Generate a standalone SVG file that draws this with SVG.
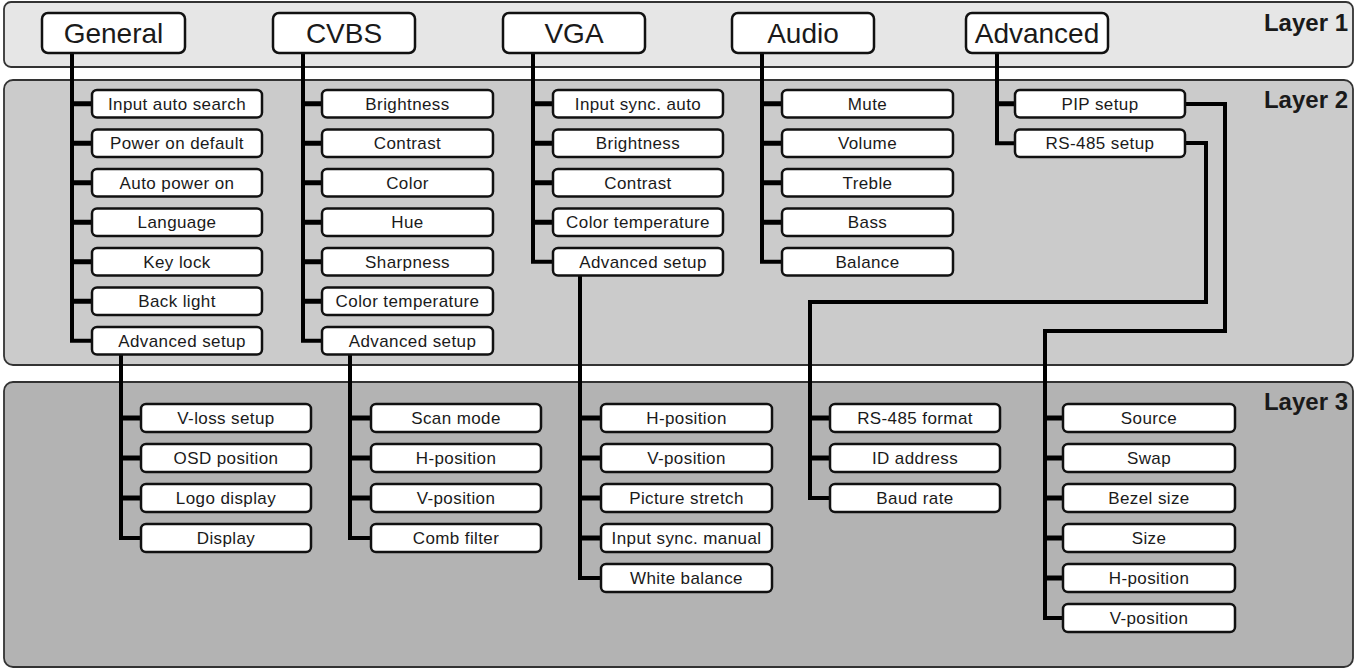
<svg xmlns="http://www.w3.org/2000/svg" width="1356" height="669" viewBox="0 0 1356 669">
<style>
.panel{stroke:#333;stroke-width:1.8}
.l1{fill:#fff;stroke:#111;stroke-width:2.5}
.b{fill:#fff;stroke:#111;stroke-width:2.5}
.t1{font-family:"Liberation Sans",Arial,sans-serif;font-size:28px;fill:#1a1a1a;text-anchor:middle}
.t{font-family:"Liberation Sans",Arial,sans-serif;font-size:17px;letter-spacing:0.4px;fill:#1a1a1a;text-anchor:middle}
.lay{font-family:"Liberation Sans",Arial,sans-serif;font-size:24px;font-weight:bold;fill:#1a1a1a;text-anchor:end}
.c{fill:none;stroke:#000;stroke-width:4;stroke-linejoin:miter}
.s{fill:none;stroke:#000;stroke-width:5}
</style>
<rect width="1356" height="669" fill="#fff"/>
<g id="panels">
<rect class="panel" x="4" y="2" width="1349" height="65" rx="7" fill="#e6e6e6"/>
<rect class="panel" x="4" y="80" width="1349" height="285" rx="9" fill="#cbcbcb"/>
<rect class="panel" x="4" y="382" width="1349" height="285" rx="9" fill="#b3b3b3"/>
<text class="lay" x="1348" y="31">Layer 1</text>
<text class="lay" x="1348" y="108">Layer 2</text>
<text class="lay" x="1348" y="410">Layer 3</text>
</g>
<g id="connectors">
<path class="c" d="M72 53 V340.75 H92"/>
<path class="s" d="M72 103.75 H92 M72 143.25 H92 M72 182.75 H92 M72 222.25 H92 M72 261.75 H92 M72 301.25 H92"/>
<path class="c" d="M303 53 V340.75 H322"/>
<path class="s" d="M303 103.75 H322 M303 143.25 H322 M303 182.75 H322 M303 222.25 H322 M303 261.75 H322 M303 301.25 H322"/>
<path class="c" d="M533 53 V261.75 H553"/>
<path class="s" d="M533 103.75 H553 M533 143.25 H553 M533 182.75 H553 M533 222.25 H553"/>
<path class="c" d="M762 53 V261.75 H782"/>
<path class="s" d="M762 103.75 H782 M762 143.25 H782 M762 182.75 H782 M762 222.25 H782"/>
<path class="c" d="M997 53 V143.25 H1015"/>
<path class="s" d="M997 103.75 H1015"/>
<path class="c" d="M121 354.5 V538 H141"/>
<path class="s" d="M121 418 H141 M121 458 H141 M121 498 H141"/>
<path class="c" d="M350 354.5 V538 H371"/>
<path class="s" d="M350 418 H371 M350 458 H371 M350 498 H371"/>
<path class="c" d="M580 275.5 V578 H601"/>
<path class="s" d="M580 418 H601 M580 458 H601 M580 498 H601 M580 538 H601"/>
<path class="c" d="M1185 143 H1206 V302 H810 V498 H830"/>
<path class="s" d="M810 418 H830 M810 458 H830"/>
<path class="c" d="M1185 104 H1225 V331 H1045 V618 H1063"/>
<path class="s" d="M1045 418 H1063 M1045 458 H1063 M1045 498 H1063 M1045 538 H1063 M1045 578 H1063"/>
</g>
<g id="general"><rect class="l1" x="42" y="13" width="143" height="40" rx="6"/><text class="t1" x="113.5" y="43">General</text></g>
<g id="cvbs"><rect class="l1" x="273" y="13" width="142" height="40" rx="6"/><text class="t1" x="344" y="43">CVBS</text></g>
<g id="vga"><rect class="l1" x="503" y="13" width="142" height="40" rx="6"/><text class="t1" x="574" y="43">VGA</text></g>
<g id="audio"><rect class="l1" x="732" y="13" width="142" height="40" rx="6"/><text class="t1" x="803" y="43">Audio</text></g>
<g id="advanced"><rect class="l1" x="966" y="13" width="142" height="40" rx="6"/><text class="t1" x="1037" y="43">Advanced</text></g>

<g id="gen-input-auto-search"><rect class="b" x="92" y="90" width="170" height="27.5" rx="5"/><text class="t" x="177" y="109.5">Input auto search</text></g>
<g id="gen-power-on-default"><rect class="b" x="92" y="129.5" width="170" height="27.5" rx="5"/><text class="t" x="177" y="149">Power on default</text></g>
<g id="gen-auto-power-on"><rect class="b" x="92" y="169" width="170" height="27.5" rx="5"/><text class="t" x="177" y="188.5">Auto power on</text></g>
<g id="gen-language"><rect class="b" x="92" y="208.5" width="170" height="27.5" rx="5"/><text class="t" x="177" y="228">Language</text></g>
<g id="gen-key-lock"><rect class="b" x="92" y="248" width="170" height="27.5" rx="5"/><text class="t" x="177" y="267.5">Key lock</text></g>
<g id="gen-back-light"><rect class="b" x="92" y="287.5" width="170" height="27.5" rx="5"/><text class="t" x="177" y="307">Back light</text></g>
<g id="gen-advanced-setup"><rect class="b" x="92" y="327" width="170" height="27.5" rx="5"/><text class="t" x="182" y="346.5">Advanced setup</text></g>

<g id="cvbs-brightness"><rect class="b" x="322" y="90" width="171" height="27.5" rx="5"/><text class="t" x="407.5" y="109.5">Brightness</text></g>
<g id="cvbs-contrast"><rect class="b" x="322" y="129.5" width="171" height="27.5" rx="5"/><text class="t" x="407.5" y="149">Contrast</text></g>
<g id="cvbs-color"><rect class="b" x="322" y="169" width="171" height="27.5" rx="5"/><text class="t" x="407.5" y="188.5">Color</text></g>
<g id="cvbs-hue"><rect class="b" x="322" y="208.5" width="171" height="27.5" rx="5"/><text class="t" x="407.5" y="228">Hue</text></g>
<g id="cvbs-sharpness"><rect class="b" x="322" y="248" width="171" height="27.5" rx="5"/><text class="t" x="407.5" y="267.5">Sharpness</text></g>
<g id="cvbs-color-temperature"><rect class="b" x="322" y="287.5" width="171" height="27.5" rx="5"/><text class="t" x="407.5" y="307">Color temperature</text></g>
<g id="cvbs-advanced-setup"><rect class="b" x="322" y="327" width="171" height="27.5" rx="5"/><text class="t" x="412.5" y="346.5">Advanced setup</text></g>

<g id="vga-input-sync-auto"><rect class="b" x="553" y="90" width="170" height="27.5" rx="5"/><text class="t" x="638" y="109.5">Input sync. auto</text></g>
<g id="vga-brightness"><rect class="b" x="553" y="129.5" width="170" height="27.5" rx="5"/><text class="t" x="638" y="149">Brightness</text></g>
<g id="vga-contrast"><rect class="b" x="553" y="169" width="170" height="27.5" rx="5"/><text class="t" x="638" y="188.5">Contrast</text></g>
<g id="vga-color-temperature"><rect class="b" x="553" y="208.5" width="170" height="27.5" rx="5"/><text class="t" x="638" y="228">Color temperature</text></g>
<g id="vga-advanced-setup"><rect class="b" x="553" y="248" width="170" height="27.5" rx="5"/><text class="t" x="643" y="267.5">Advanced setup</text></g>

<g id="audio-mute"><rect class="b" x="782" y="90" width="171" height="27.5" rx="5"/><text class="t" x="867.5" y="109.5">Mute</text></g>
<g id="audio-volume"><rect class="b" x="782" y="129.5" width="171" height="27.5" rx="5"/><text class="t" x="867.5" y="149">Volume</text></g>
<g id="audio-treble"><rect class="b" x="782" y="169" width="171" height="27.5" rx="5"/><text class="t" x="867.5" y="188.5">Treble</text></g>
<g id="audio-bass"><rect class="b" x="782" y="208.5" width="171" height="27.5" rx="5"/><text class="t" x="867.5" y="228">Bass</text></g>
<g id="audio-balance"><rect class="b" x="782" y="248" width="171" height="27.5" rx="5"/><text class="t" x="867.5" y="267.5">Balance</text></g>

<g id="adv-pip-setup"><rect class="b" x="1015" y="90" width="170" height="27.5" rx="5"/><text class="t" x="1100" y="109.5">PIP setup</text></g>
<g id="adv-rs485-setup"><rect class="b" x="1015" y="129.5" width="170" height="27.5" rx="5"/><text class="t" x="1100" y="149">RS-485 setup</text></g>

<g id="gen3-vloss-setup"><rect class="b" x="141" y="404" width="170" height="28" rx="5"/><text class="t" x="226" y="424">V-loss setup</text></g>
<g id="gen3-osd-position"><rect class="b" x="141" y="444" width="170" height="28" rx="5"/><text class="t" x="226" y="464">OSD position</text></g>
<g id="gen3-logo-display"><rect class="b" x="141" y="484" width="170" height="28" rx="5"/><text class="t" x="226" y="504">Logo display</text></g>
<g id="gen3-display"><rect class="b" x="141" y="524" width="170" height="28" rx="5"/><text class="t" x="226" y="544">Display</text></g>

<g id="cvbs3-scan-mode"><rect class="b" x="371" y="404" width="170" height="28" rx="5"/><text class="t" x="456" y="424">Scan mode</text></g>
<g id="cvbs3-h-position"><rect class="b" x="371" y="444" width="170" height="28" rx="5"/><text class="t" x="456" y="464">H-position</text></g>
<g id="cvbs3-v-position"><rect class="b" x="371" y="484" width="170" height="28" rx="5"/><text class="t" x="456" y="504">V-position</text></g>
<g id="cvbs3-comb-filter"><rect class="b" x="371" y="524" width="170" height="28" rx="5"/><text class="t" x="456" y="544">Comb filter</text></g>

<g id="vga3-h-position"><rect class="b" x="601" y="404" width="171" height="28" rx="5"/><text class="t" x="686.5" y="424">H-position</text></g>
<g id="vga3-v-position"><rect class="b" x="601" y="444" width="171" height="28" rx="5"/><text class="t" x="686.5" y="464">V-position</text></g>
<g id="vga3-picture-stretch"><rect class="b" x="601" y="484" width="171" height="28" rx="5"/><text class="t" x="686.5" y="504">Picture stretch</text></g>
<g id="vga3-input-sync-manual"><rect class="b" x="601" y="524" width="171" height="28" rx="5"/><text class="t" x="686.5" y="544">Input sync. manual</text></g>
<g id="vga3-white-balance"><rect class="b" x="601" y="564" width="171" height="28" rx="5"/><text class="t" x="686.5" y="584">White balance</text></g>

<g id="rs3-format"><rect class="b" x="830" y="404" width="170" height="28" rx="5"/><text class="t" x="915" y="424">RS-485 format</text></g>
<g id="rs3-id-address"><rect class="b" x="830" y="444" width="170" height="28" rx="5"/><text class="t" x="915" y="464">ID address</text></g>
<g id="rs3-baud-rate"><rect class="b" x="830" y="484" width="170" height="28" rx="5"/><text class="t" x="915" y="504">Baud rate</text></g>

<g id="pip3-source"><rect class="b" x="1063" y="404" width="172" height="28" rx="5"/><text class="t" x="1149" y="424">Source</text></g>
<g id="pip3-swap"><rect class="b" x="1063" y="444" width="172" height="28" rx="5"/><text class="t" x="1149" y="464">Swap</text></g>
<g id="pip3-bezel-size"><rect class="b" x="1063" y="484" width="172" height="28" rx="5"/><text class="t" x="1149" y="504">Bezel size</text></g>
<g id="pip3-size"><rect class="b" x="1063" y="524" width="172" height="28" rx="5"/><text class="t" x="1149" y="544">Size</text></g>
<g id="pip3-h-position"><rect class="b" x="1063" y="564" width="172" height="28" rx="5"/><text class="t" x="1149" y="584">H-position</text></g>
<g id="pip3-v-position"><rect class="b" x="1063" y="604" width="172" height="28" rx="5"/><text class="t" x="1149" y="624">V-position</text></g>
</svg>
